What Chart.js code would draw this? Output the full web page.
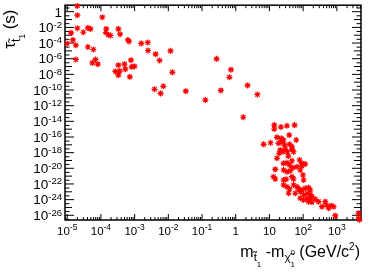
<!DOCTYPE html>
<html>
<head>
<meta charset="utf-8">
<script src="https://cdn.jsdelivr.net/npm/chart.js@4.4.1/dist/chart.umd.min.js"></script>
<style>
  html, body { margin: 0; padding: 0; background: #fff; }
</style>
</head>
<body>
<canvas id="lifetime-chart" width="374" height="273"></canvas>
<script>
// stop - neutralino mass difference (GeV/c^2)
const massDiff = [
  2.0e-5, 2.0e-5, 1.1e-4, 2.0e-5, 4.1e-5, 4.9e-5, 3.0e-5, 1.3e-5, 1.44e-4, 1.4e-4,
  1.68e-4, 1.93e-4, 3.3e-4, 3.7e-4, 1.48e-5, 1.0e-5, 1.8e-5, 6.3e-4, 6.8e-4, 1.57e-3,
  2.45e-3, 4.1e-5, 6.0e-5, 2.5e-3, 4.2e-3, 1.16e-2, 1.8e-5, 6.9e-5, 5.6e-5, 8.1e-5,
  5.5e-3, 7.8e-4, 3.3e-4, 5.0e-4, 8.2e-4, 9.9e-4, 5.3e-4, 2.7e-4, 3.6e-4, 3.3e-4,
  7.2e-4, 1.32e-2, 3.9e-3, 7.1e-3, 5.9e-3, 3.3e-2, 0.126, 0.27, 0.72, 0.65,
  2.24, 0.36, 4.4, 1.67, 13.9, 13.9, 21.9, 33, 55.6, 38.7,
  16.7, 22.4, 26.2, 62.4, 6.7, 10.8, 18.6, 23.5, 28.1, 39.5,
  46.5, 20.9, 25.2, 29.4, 34.4, 46.5, 51.9, 19.5, 16.7, 36.1,
  26.2, 33, 39.5, 46.5, 78.2, 92, 115, 14.9, 26.2, 33,
  41.4, 49.8, 65.5, 82, 92, 13.2, 14.9, 26.2, 31.5, 46.5,
  51.9, 98.6, 103, 26.2, 33, 39.5, 51.9, 65.5, 73, 92,
  115, 145, 163, 36.9, 58.3, 82, 103, 130, 163, 82,
  103, 130, 163, 182, 145, 182, 229, 286, 361, 453,
  485, 567, 682, 798, 897, 4400, 4400, 4700
];

// stop lifetime (s)
const lifetime = [
  5.5, 0.36, 0.2, 7.9e-3, 8.6e-3, 6.4e-3, 2.4e-3, 2.0e-3, 6.4e-3, 2.2e-3,
  1.1e-3, 9.2e-4, 6.4e-3, 1.35e-3, 2.5e-4, 8.8e-5, 5.3e-5, 2.5e-4, 1.6e-4, 9.0e-5,
  1.18e-4, 3.1e-5, 1.5e-5, 1.12e-5, 3.8e-6, 1.0e-5, 8.0e-7, 8.0e-7, 2.9e-7, 2.0e-7,
  6.0e-7, 6.5e-7, 1.5e-7, 2.0e-7, 9.1e-8, 1.05e-7, 4.6e-8, 2.4e-8, 2.6e-8, 8.0e-9,
  4.8e-9, 1.8e-8, 1.23e-10, 3.0e-10, 3.7e-11, 7.2e-11, 5.2e-12, 9.5e-7, 4.0e-8, 4.2e-9,
  3.9e-10, 8.9e-11, 2.7e-11, 3.3e-14, 3.3e-15, 1.03e-15, 1.85e-15, 2.7e-15, 3.3e-15, 1.77e-16,
  9.0e-17, 6.7e-17, 4.1e-17, 4.1e-17, 1.15e-17, 1.84e-17, 1.55e-17, 2.1e-17, 9.4e-18, 1.15e-17,
  5.7e-18, 2.2e-18, 1.31e-18, 2.65e-18, 1.31e-18, 2.65e-18, 1.31e-18, 8.2e-19, 1.9e-19, 3.7e-19,
  4.3e-20, 5.2e-20, 2.6e-20, 9.3e-20, 1.15e-19, 4.3e-20, 3.5e-20, 7.4e-21, 6.1e-21, 3.7e-21,
  4.9e-21, 1.19e-20, 1.6e-20, 6.1e-21, 1.96e-20, 8.5e-22, 4.3e-22, 3.2e-22, 4.0e-22, 8.5e-22,
  4.3e-22, 1.4e-21, 3.2e-22, 7.4e-23, 4.5e-23, 2.3e-23, 7.4e-23, 4.5e-23, 2.3e-23, 1.7e-23,
  2.8e-23, 3.4e-23, 1.7e-23, 6.5e-24, 6.5e-24, 1.03e-23, 3.9e-24, 6.5e-24, 4.8e-24, 1.49e-24,
  9.0e-25, 1.49e-24, 1.11e-24, 2.4e-24, 5.5e-25, 4.6e-25, 1.11e-24, 5.5e-25, 1.26e-25, 5.5e-25,
  2.1e-25, 7.9e-26, 1.7e-25, 1.26e-25, 9.0e-27, 1.8e-26, 4.2e-27, 2.7e-27
];

// labelled decades (powers of ten)
const xTickExps = [-5, -4, -3, -2, -1, 0, 1, 2, 3];
const yTickExps = [0, -2, -4, -6, -8, -10, -12, -14, -16, -18, -20, -22, -24, -26];

const FONT = '"Liberation Sans", Arial, sans-serif';

function expLabel(n) {
  if (n === 0) return { base: "1", sup: "" };
  if (n === 1) return { base: "10", sup: "" };
  return { base: "10", sup: String(n) };
}

// draws a run of text pieces (size, vertical shift), right aligned at x
function drawPieces(ctx, pieces, x, y) {
  let w = 0;
  pieces.forEach((p) => {
    ctx.font = p.size + "px " + FONT;
    p.w = ctx.measureText(p.t).width;
    if (p.adv !== false) w += p.w;
  });
  let cx = x - w;
  ctx.textAlign = "left";
  ctx.textBaseline = "alphabetic";
  pieces.forEach((p) => {
    ctx.font = p.size + "px " + FONT;
    ctx.fillText(p.t, cx, y + (p.dy || 0));
    if (p.adv !== false) cx += p.w;
  });
}

const rootFrame = {
  id: "rootFrame",
  beforeDatasetsDraw(chart) {
    const { ctx, chartArea: a, scales: { x, y } } = chart;
    ctx.save();
    ctx.strokeStyle = "#000";
    ctx.lineWidth = 1;
    const seg = (x1, y1, x2, y2) => {
      ctx.beginPath();
      ctx.moveTo(x1, y1);
      ctx.lineTo(x2, y2);
      ctx.stroke();
    };
    // x axis ticks, bottom and top, pointing inwards
    for (let e = -6; e <= 4; e++) {
      for (let m = 1; m <= 9; m++) {
        const v = m * Math.pow(10, e);
        if (v < x.min || v > x.max) continue;
        const px = x.getPixelForValue(v);
        const len = m === 1 ? 6 : 3;
        seg(px, a.bottom, px, a.bottom - len);
        seg(px, a.top, px, a.top + len);
      }
    }
    // y axis ticks, left and right
    for (let e = -28; e <= 1; e++) {
      [[1, e % 2 === 0 ? 9 : 7], [3, 4.5]].forEach(([m, len]) => {
        const v = m * Math.pow(10, e);
        if (v < y.min || v > y.max) return;
        const py = y.getPixelForValue(v);
        seg(a.left, py, a.left + len, py);
        seg(a.right, py, a.right - len, py);
      });
    }
    ctx.lineWidth = 1.5;
    ctx.strokeRect(a.left, a.top, a.right - a.left, a.bottom - a.top);
    ctx.restore();
  },
  afterDraw(chart) {
    const { ctx, chartArea: a, scales: { x, y } } = chart;
    ctx.save();
    ctx.fillStyle = "#000";

    // y tick labels
    yTickExps.forEach((n) => {
      const py = y.getPixelForValue(Math.pow(10, n));
      const { base, sup } = expLabel(n);
      const pieces = [{ t: base, size: 13.5, dy: 0 }];
      if (sup) pieces.push({ t: sup, size: 9.5, dy: -4.5 });
      drawPieces(ctx, pieces, a.left - 3, py + 4.8);
    });

    // x tick labels, centred on the decade
    xTickExps.forEach((n) => {
      const px = x.getPixelForValue(Math.pow(10, n));
      const { base, sup } = expLabel(n);
      ctx.font = "11.5px " + FONT;
      const bw = ctx.measureText(base).width;
      ctx.font = "8.5px " + FONT;
      const sw = sup ? ctx.measureText(sup).width : 0;
      const pieces = [{ t: base, size: 11.5, dy: 0 }];
      if (sup) pieces.push({ t: sup, size: 8.5, dy: -5.5 });
      drawPieces(ctx, pieces, px + (bw + sw) / 2, 235);
    });

    // x axis title
    drawPieces(ctx, [
      { t: "m", size: 16 },
      { t: "t\u0303", size: 11.5, dy: 4.5 },
      { t: "1", size: 8, dy: 10 },
      { t: " -m", size: 16 },
      { t: "\u03c7\u0303", size: 11.5, dy: 4.5 },
      { t: "0", size: 8, dy: -1.5, adv: false },
      { t: "1", size: 8, dy: 10 },
      { t: " (GeV/c", size: 16 },
      { t: "2", size: 10, dy: -7 },
      { t: ")", size: 16 }
    ], 360, 256.5);

    // y axis title, rotated
    ctx.translate(15, 9.5);
    ctx.rotate(-Math.PI / 2);
    drawPieces(ctx, [
      { t: "\u03c4", size: 17 },
      { t: "t\u0303", size: 12, dy: 4.5 },
      { t: "1", size: 8.5, dy: 9.5 },
      { t: " (s)", size: 17 }
    ], 0, 0);
    ctx.restore();
  }
};

const points = massDiff.map((m, i) => ({ x: m, y: lifetime[i] }));

new Chart(document.getElementById("lifetime-chart"), {
  type: "scatter",
  data: {
    datasets: [
      {
        data: points,
        pointStyle: "star",
        radius: 3,
        borderWidth: 1.2,
        borderColor: "#ff0000",
        backgroundColor: "#ff0000",
        clip: false
      }
    ]
  },
  options: {
    responsive: false,
    animation: false,
    devicePixelRatio: 1,
    layout: { padding: { top: 5, right: 13, left: 0, bottom: 0 } },
    plugins: {
      legend: { display: false },
      tooltip: { enabled: false }
    },
    scales: {
      x: {
        type: "logarithmic",
        bounds: "data",
        min: 8.6e-6,
        max: 5.2e3,
        ticks: { display: false },
        grid: { display: false, drawTicks: false },
        border: { display: false },
        afterBuildTicks: (s) => { s.ticks = xTickExps.map((n) => ({ value: Math.pow(10, n) })); },
        afterFit: (s) => { s.height = 53; }
      },
      y: {
        type: "logarithmic",
        bounds: "data",
        min: 2.5e-27,
        max: 6.8,
        ticks: { display: false },
        grid: { display: false, drawTicks: false },
        border: { display: false },
        afterBuildTicks: (s) => { s.ticks = yTickExps.map((n) => ({ value: Math.pow(10, n) })); },
        afterFit: (s) => { s.width = 65; }
      }
    }
  },
  plugins: [rootFrame]
});
</script>
</body>
</html>
